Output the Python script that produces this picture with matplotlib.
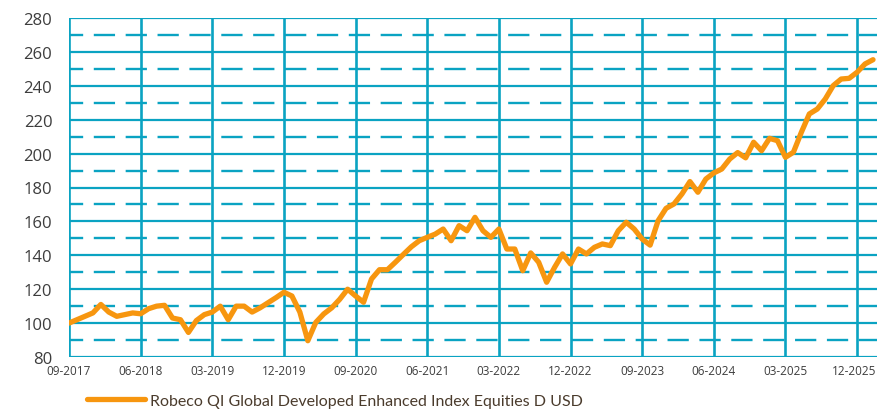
import numpy as np
import pandas as pd
import matplotlib
matplotlib.use('Agg')
import matplotlib.pyplot as plt
import matplotlib.transforms as mtransforms

series_name = 'Robeco QI Global Developed Enhanced Index Equities D USD'

# monthly values, starting 09-2017
values = [
    100.0, 102.0, 104.0, 106.0, 111.0, 106.5, 104.0, 105.0, 106.0, 105.5,
    108.5, 110.0, 110.5, 103.0, 102.0, 94.5, 101.5, 105.0, 106.5, 110.0,
    102.0, 110.0, 110.0, 106.5, 109.0, 112.0, 115.0, 118.2, 116.0, 106.5,
    89.6, 100.4, 105.4, 109.0, 114.0, 120.0, 116.0, 112.3, 126.0, 131.5,
    131.5, 135.9, 140.5, 145.0, 148.6, 150.6, 152.5, 155.5, 148.6, 157.5,
    154.5, 162.4, 154.5, 150.6, 155.5, 143.7, 143.7, 130.9, 141.4, 135.9,
    124.1, 132.9, 140.8, 134.9, 143.7, 140.8, 144.7, 146.7, 145.7, 154.5,
    159.5, 155.5, 149.6, 146.0, 160.4, 167.7, 170.3, 176.2, 183.5, 177.2,
    185.0, 188.6, 190.9, 196.8, 200.6, 197.5, 206.7, 201.7, 209.0, 207.6,
    197.8, 200.8, 212.6, 223.4, 226.3, 232.2, 240.1, 244.0, 244.4, 248.0,
    252.9, 255.4,
]
months = np.arange(len(values))
tick_months = np.arange(0, 100, 9)
tick_labels = ['09-2017', '06-2018', '03-2019', '12-2019', '09-2020', '06-2021',
               '03-2022', '12-2022', '09-2023', '06-2024', '03-2025', '12-2025']
y_major = np.arange(80, 281, 20)
y_minor = np.arange(90, 280, 20)

grid_c = '#0aa3c2'
line_c = '#f7960f'
text_c = '#3d3d3d'

plt.rcParams['font.family'] = ['Open Sans', 'DejaVu Sans']

fig = plt.figure(figsize=(8.77, 4.10), dpi=100)
ax = fig.add_axes([69 / 877, 52 / 410, 1 - 69 / 877, 339 / 410])

for v in y_major:
    ax.axhline(v, color=grid_c, lw=1.6, zorder=1)
for v in y_minor:
    ax.axhline(v, color=grid_c, lw=1.7, linestyle=(3, (9.0, 4.5)), zorder=1)
for m in tick_months:
    ax.axvline(m, color=grid_c, lw=1.9, zorder=1)

ax.plot(months, values, color=line_c, lw=3.8, solid_capstyle='round',
        solid_joinstyle='round', zorder=3, label=series_name)

ax.set_xlim(0, 101.5)
ax.set_ylim(80, 280)
ax.set_yticks(y_major)
ax.set_xticks(tick_months)
ax.set_xticklabels(tick_labels)
ax.tick_params(axis='y', length=0, pad=12, labelsize=12, labelcolor=text_c)
ax.tick_params(axis='x', length=0, pad=5, labelsize=8.5, labelcolor=text_c)
for s in ax.spines.values():
    s.set_visible(False)

# keep last date label inside the image
last = ax.get_xticklabels()[-1]
last.set_transform(last.get_transform() +
                   mtransforms.ScaledTranslation(-3 / 100, 0, fig.dpi_scale_trans))

leg = fig.legend(loc='lower left', bbox_to_anchor=(73 / 877, -13 / 410),
                 frameon=False, handlelength=3.6, handletextpad=0.3,
                 prop={'family': ['Lato', 'DejaVu Sans'], 'size': 11.5},
                 labelcolor='#4a3b2c')

fig.savefig('out.png', dpi=100)
